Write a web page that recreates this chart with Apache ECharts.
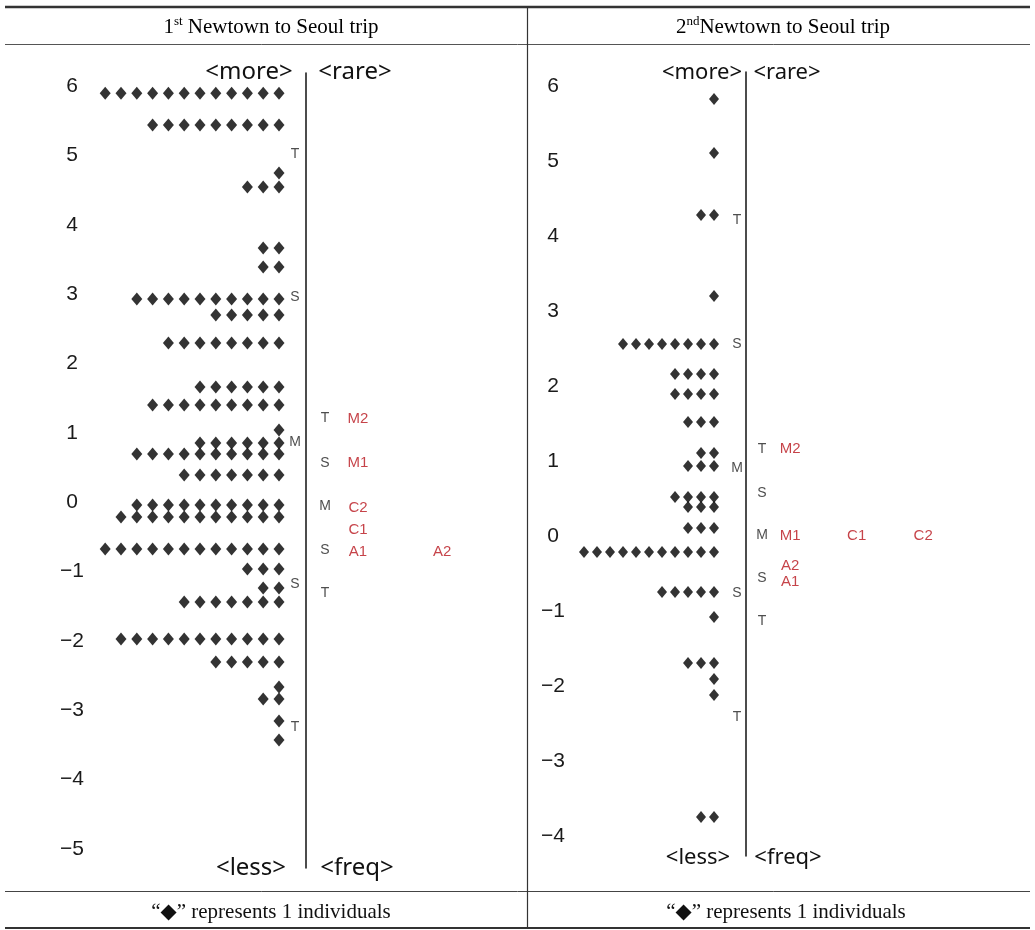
<!DOCTYPE html>
<html>
<head>
<meta charset="utf-8">
<script src="https://cdn.jsdelivr.net/npm/echarts@6/dist/echarts.min.js"></script>
<style>
  html, body { margin: 0; padding: 0; background: #fff; }
  #main { width: 1035px; height: 930px; }
</style>
</head>
<body>
<div id="main"></div>
<script>
// person rows: logit value of the row and how many individuals on it
var rows1Values = [5.895, 5.438, 4.746, 4.544, 3.665, 3.391, 2.930, 2.699, 2.295, 1.661, 1.401, 1.041, 0.854, 0.695, 0.392,
                   -0.040, -0.213, -0.675, -0.963, -1.237, -1.439, -1.973, -2.304, -2.665, -2.838, -3.155, -3.429];
var rows1Counts = [12, 9, 1, 3, 2, 2, 10, 5, 8, 6, 9, 1, 6, 10, 7, 10, 11, 12, 3, 2, 7, 11, 5, 1, 2, 1, 1];

var rows2Values = [5.827, 5.107, 4.280, 3.200, 2.560, 2.160, 1.893, 1.520, 1.107, 0.933, 0.520, 0.387, 0.107,
                   -0.213, -0.747, -1.080, -1.693, -1.907, -2.120, -3.747];
var rows2Counts = [1, 1, 2, 1, 8, 4, 4, 3, 2, 3, 4, 3, 3, 11, 5, 1, 3, 1, 1, 2];

// M / S / T marks of the person distribution (left of the line) and of the items (right of it)
var distMarks = ['T', 'S', 'M', 'S', 'T'];
var person1Marks = [5.02, 2.95, 0.86, -1.18, -3.24];
var item1Marks = [1.207, 0.565, -0.055, -0.689, -1.309];
var person2Marks = [4.21, 2.56, 0.91, -0.76, -2.41];
var item2Marks = [1.16, 0.573, 0.013, -0.56, -1.133];

// items: name, logit value, slot on the line
var items1Names = ['M2', 'M1', 'C2', 'C1', 'A1', 'A2'];
var items1Values = [1.207, 0.565, -0.084, -0.40, -0.72, -0.72];
var items1Slots = [0, 0, 0, 0, 0, 1];
var items2Names = ['M2', 'M1', 'C1', 'C2', 'A2', 'A1'];
var items2Values = [1.16, 0.0, 0.0, 0.0, -0.40, -0.613];
var items2Slots = [0, 0, 1, 2, 0, 0];

var tickValues1 = [-5, -4, -3, -2, -1, 0, 1, 2, 3, 4, 5, 6];
var tickValues2 = [-4, -3, -2, -1, 0, 1, 2, 3, 4, 5, 6];

var sans = "'Liberation Sans', Arial, sans-serif";
var serif = "'Liberation Serif', 'DejaVu Serif', serif";
var red = '#b8141b';

function diamonds(values, counts) {
    var out = [];
    values.forEach(function (v, i) {
        for (var k = 0; k < counts[i]; k++) out.push([-k, v]);
    });
    return out;
}
function marks(values, col) {
    return values.map(function (v, i) { return { value: [col, v], name: distMarks[i] }; });
}
function items(names, values, slots, base, step) {
    return names.map(function (n, i) { return { value: [base + slots[i] * step, values[i]], name: n }; });
}
function minusFmt(v) { return v < 0 ? '\u2212' + (-v) : '' + v; }

var chart = echarts.init(document.getElementById('main'));

var labelAxis = function (grid, min, max, ticks) {
    return {
        gridIndex: grid, type: 'value', position: 'left', min: min, max: max,
        axisLine: { show: false }, axisTick: { show: false }, splitLine: { show: false },
        axisLabel: {
            customValues: ticks, formatter: minusFmt, margin: 8, align: 'center',
            fontFamily: sans, fontSize: 21, color: '#1a1a1a'
        }
    };
};
var lineAxis = function (grid, min, max, offset) {
    return {
        gridIndex: grid, type: 'value', position: 'left', min: min, max: max, offset: offset,
        axisLine: { show: true, lineStyle: { color: '#111', width: 1.5 } },
        axisTick: { show: false }, splitLine: { show: false }, axisLabel: { show: false }
    };
};
var textSeries = function (xi, yi, data, color, size) {
    return {
        type: 'scatter', xAxisIndex: xi, yAxisIndex: yi, symbolSize: 0, data: data, silent: true,
        label: { show: true, position: 'inside', formatter: '{b}', fontFamily: sans, fontSize: size, color: color }
    };
};

var serifRich = {
    n: { fontFamily: serif, fontSize: 21, color: '#111', lineHeight: 24 },
    s: { fontFamily: serif, fontSize: 13, color: '#111', lineHeight: 24, verticalAlign: 'top', padding: [0, 0, 9, 0] }
};

option = {
    animation: false,
    backgroundColor: '#fff',
    grid: [
        { left: 80, top: 73, width: 447, height: 795 },
        { left: 561, top: 72, width: 474, height: 784 }
    ],
    xAxis: [
        { gridIndex: 0, type: 'value', min: -12.595, max: 15.696, show: false },
        { gridIndex: 1, type: 'value', min: -11.77, max: 24.69, show: false }
    ],
    yAxis: [
        labelAxis(0, -5.273, 6.188, tickValues1),
        lineAxis(0, -5.273, 6.188, -226),
        labelAxis(1, -4.267, 6.187, tickValues2),
        lineAxis(1, -4.267, 6.187, -185)
    ],
    series: [
        {
            type: 'scatter', xAxisIndex: 0, yAxisIndex: 0, symbol: 'diamond', symbolSize: [11, 13],
            itemStyle: { color: '#000' }, data: diamonds(rows1Values, rows1Counts)
        },
        {
            type: 'scatter', xAxisIndex: 1, yAxisIndex: 2, symbol: 'diamond', symbolSize: [10, 12],
            itemStyle: { color: '#000' }, data: diamonds(rows2Values, rows2Counts)
        },
        textSeries(0, 0, marks(person1Marks, 1.01), '#222', 14),
        textSeries(0, 0, marks(item1Marks, 2.91), '#222', 14),
        textSeries(0, 0, items(items1Names, items1Values, items1Slots, 5.0, 5.32), red, 15),
        textSeries(1, 2, marks(person2Marks, 1.77), '#222', 14),
        textSeries(1, 2, marks(item2Marks, 3.69), '#222', 14),
        textSeries(1, 2, items(items2Names, items2Values, items2Slots, 5.85, 5.12), red, 15)
    ],
    graphic: [
        // table frame
        { type: 'line', shape: { x1: 5, y1: 7, x2: 1030, y2: 7 }, style: { stroke: '#333', lineWidth: 2.5 } },
        { type: 'line', shape: { x1: 5, y1: 44.5, x2: 1030, y2: 44.5 }, style: { stroke: '#555', lineWidth: 1 } },
        { type: 'line', shape: { x1: 5, y1: 891.5, x2: 1030, y2: 891.5 }, style: { stroke: '#444', lineWidth: 1 } },
        { type: 'line', shape: { x1: 5, y1: 928, x2: 1030, y2: 928 }, style: { stroke: '#333', lineWidth: 2 } },
        { type: 'line', shape: { x1: 527.5, y1: 7, x2: 527.5, y2: 928 }, style: { stroke: '#333', lineWidth: 1.2 } },
        // headers
        { type: 'text', x: 271, y: 27, style: { text: '{n|1}{s|st}{n| Newtown to Seoul trip}', align: 'center', verticalAlign: 'middle', rich: serifRich } },
        { type: 'text', x: 783, y: 27, style: { text: '{n|2}{s|nd}{n|Newtown to Seoul trip}', align: 'center', verticalAlign: 'middle', rich: serifRich } },
        // direction labels
        { type: 'text', x: 249, y: 72, style: { text: '<more>', align: 'center', verticalAlign: 'middle', font: "24px 'Noto Sans'", fill: '#111' } },
        { type: 'text', x: 355, y: 72, style: { text: '<rare>', align: 'center', verticalAlign: 'middle', font: "24px 'Noto Sans'", fill: '#111' } },
        { type: 'text', x: 251, y: 868, style: { text: '<less>', align: 'center', verticalAlign: 'middle', font: "24px 'Noto Sans'", fill: '#111' } },
        { type: 'text', x: 357, y: 868, style: { text: '<freq>', align: 'center', verticalAlign: 'middle', font: "24px 'Noto Sans'", fill: '#111' } },
        { type: 'text', x: 702, y: 73, style: { text: '<more>', align: 'center', verticalAlign: 'middle', font: "22px 'Noto Sans'", fill: '#111' } },
        { type: 'text', x: 787, y: 73, style: { text: '<rare>', align: 'center', verticalAlign: 'middle', font: "22px 'Noto Sans'", fill: '#111' } },
        { type: 'text', x: 698, y: 858, style: { text: '<less>', align: 'center', verticalAlign: 'middle', font: "22px 'Noto Sans'", fill: '#111' } },
        { type: 'text', x: 788, y: 858, style: { text: '<freq>', align: 'center', verticalAlign: 'middle', font: "22px 'Noto Sans'", fill: '#111' } },
        // footers
        { type: 'text', x: 271, y: 912, style: { text: '\u201c\u25c6\u201d represents 1 individuals', align: 'center', verticalAlign: 'middle', font: "21px " + serif, fill: '#111' } },
        { type: 'text', x: 786, y: 912, style: { text: '\u201c\u25c6\u201d represents 1 individuals', align: 'center', verticalAlign: 'middle', font: "21px " + serif, fill: '#111' } }
    ]
};
chart.setOption(option);
</script>
</body>
</html>
